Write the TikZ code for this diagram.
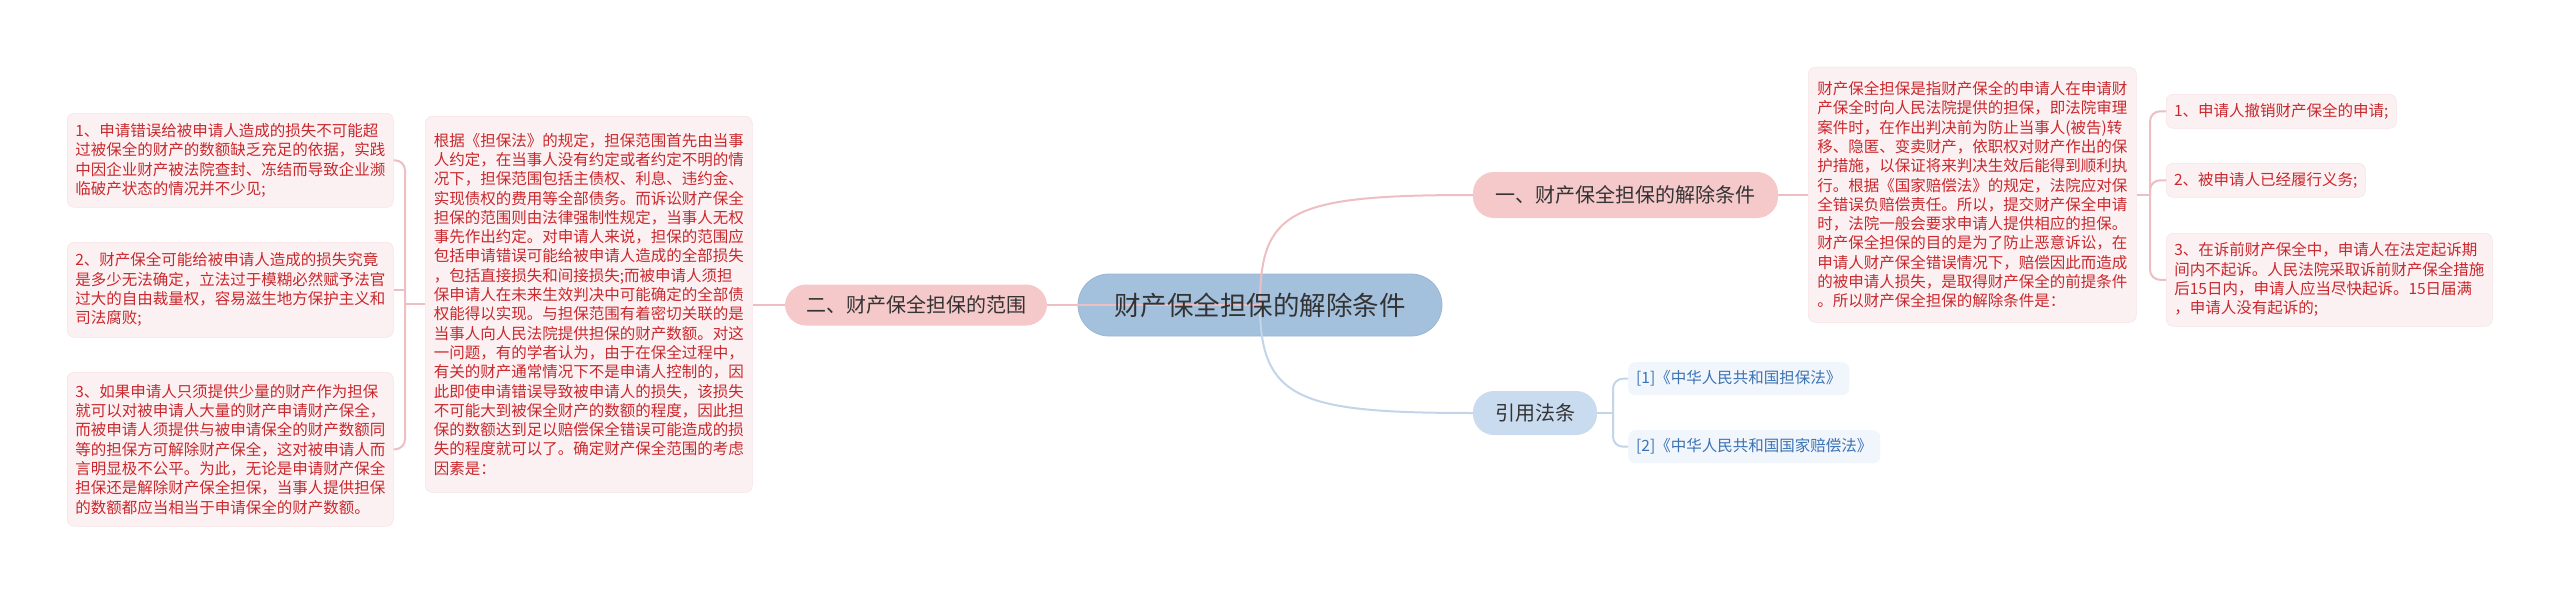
\documentclass[tikz,border=0pt]{standalone}
\usepackage{fontspec}
\setmainfont{Noto Sans CJK SC}
\definecolor{cfill}{HTML}{A3C0DC}
\definecolor{cdraw}{HTML}{9AB7D5}
\definecolor{pfill}{HTML}{F5C8CA}
\definecolor{bfill}{HTML}{C9DBEE}
\definecolor{boxfill}{HTML}{FCF1F2}
\definecolor{boxdraw}{HTML}{F8E4E6}
\definecolor{reffill}{HTML}{F1F6FC}
\definecolor{txtred}{HTML}{C9282D}
\definecolor{txtblue}{HTML}{3B72B3}
\definecolor{txtdark}{HTML}{333333}
\definecolor{pline}{HTML}{EDBFC2}
\definecolor{bline}{HTML}{C3D5E9}
\begin{document}
\begin{tikzpicture}[x=1pt,y=-1pt,
  pill/.style={rounded corners=#1, inner sep=0pt, text=txtdark},
  centerpill/.style={pill=31, fill=cfill, draw=cdraw, line width=0.8},
  pinkpill/.style={pill=21, fill=pfill, font=\fontsize{20}{24}\selectfont},
  bluepill/.style={pill=21, fill=bfill, font=\fontsize{20}{24}\selectfont},
  tbox/.style={fill=boxfill, draw=boxdraw, line width=0.6, rounded corners=7, text=txtred,
    font=\fontsize{15.5}{19.3}\selectfont, align=left, anchor=north west, inner sep=0pt},
  refbox/.style={fill=reffill, rounded corners=7, text=txtblue,
    font=\fontsize{15.5}{19.3}\selectfont, align=left, anchor=north west, inner sep=0pt},
  pinkconn/.style={draw=pline, line width=2},
  blueconn/.style={draw=bline, line width=2},
]
\fill[white] (0,0) rectangle (2560,594);
\useasboundingbox (0,0) rectangle (2560,594);

% central node (fill first, lines over it, then text)
\node[centerpill, minimum width=364, minimum height=62] (C) at (1260,305) {};

% main branches
\node[pinkpill, minimum width=262, minimum height=41] (B2) at (916,305) {二、财产保全担保的范围};
\node[pinkpill, minimum width=305, minimum height=46] (B1) at (1625.5,195) {一、财产保全担保的解除条件};
\node[bluepill, minimum width=124, minimum height=44] (B3) at (1535,413) {引用法条};

% left text boxes
\node[tbox, minimum width=327, minimum height=376] (LM) at (425,116) {根据《担保法》的规定，担保范围首先由当事\\人约定，在当事人没有约定或者约定不明的情\\况下，担保范围包括主债权、利息、违约金、\\实现债权的费用等全部债务。而诉讼财产保全\\担保的范围则由法律强制性规定，当事人无权\\事先作出约定。对申请人来说，担保的范围应\\包括申请错误可能给被申请人造成的全部损失\\，包括直接损失和间接损失;而被申请人须担\\保申请人在未来生效判决中可能确定的全部债\\权能得以实现。与担保范围有着密切关联的是\\当事人向人民法院提供担保的财产数额。对这\\一问题，有的学者认为，由于在保全过程中，\\有关的财产通常情况下不是申请人控制的，因\\此即使申请错误导致被申请人的损失，该损失\\不可能大到被保全财产的数额的程度，因此担\\保的数额达到足以赔偿保全错误可能造成的损\\失的程度就可以了。确定财产保全范围的考虑\\因素是：};

\node[tbox, minimum width=326, minimum height=94] (L1) at (67,113) {1、申请错误给被申请人造成的损失不可能超\\过被保全的财产的数额缺乏充足的依据，实践\\中因企业财产被法院查封、冻结而导致企业濒\\临破产状态的情况并不少见;};
\node[tbox, minimum width=326, minimum height=95] (L2) at (67,242) {2、财产保全可能给被申请人造成的损失究竟\\是多少无法确定，立法过于模糊必然赋予法官\\过大的自由裁量权，容易滋生地方保护主义和\\司法腐败;};
\node[tbox, minimum width=326, minimum height=154] (L3) at (67,372) {3、如果申请人只须提供少量的财产作为担保\\就可以对被申请人大量的财产申请财产保全，\\而被申请人须提供与被申请保全的财产数额同\\等的担保方可解除财产保全，这对被申请人而\\言明显极不公平。为此，无论是申请财产保全\\担保还是解除财产保全担保，当事人提供担保\\的数额都应当相当于申请保全的财产数额。};

% right text boxes
\node[tbox, minimum width=328, minimum height=255] (RM) at (1808,67) {财产保全担保是指财产保全的申请人在申请财\\产保全时向人民法院提供的担保，即法院审理\\案件时，在作出判决前为防止当事人(被告)转\\移、隐匿、变卖财产，依职权对财产作出的保\\护措施，以保证将来判决生效后能得到顺利执\\行。根据《国家赔偿法》的规定，法院应对保\\全错误负赔偿责任。所以，提交财产保全申请\\时，法院一般会要求申请人提供相应的担保。\\财产保全担保的目的是为了防止恶意诉讼，在\\申请人财产保全错误情况下，赔偿因此而造成\\的被申请人损失，是取得财产保全的前提条件\\。所以财产保全担保的解除条件是：};

\node[tbox, minimum width=230, minimum height=34] (R1) at (2166,94) {1、申请人撤销财产保全的申请;};
\node[tbox, minimum width=199, minimum height=34] (R2) at (2166,163) {2、被申请人已经履行义务;};
\node[tbox, minimum width=326, minimum height=93] (R3) at (2166,233) {3、在诉前财产保全中，申请人在法定起诉期\\间内不起诉。人民法院采取诉前财产保全措施\\后15日内，申请人应当尽快起诉。15日届满\\，申请人没有起诉的;};

% reference boxes
\node[refbox, minimum width=221, minimum height=33] (F1) at (1628,362) {[1]《中华人民共和国担保法》};
\node[refbox, minimum width=252, minimum height=33] (F2) at (1628,430) {[2]《中华人民共和国国家赔偿法》};

% connectors from center
\draw[pinkconn] (C.center) -- (B2.east);
\draw[pinkconn] (C.center) .. controls (1260,210) and (1290,195) .. (B1.west);
\draw[blueconn] (C.center) .. controls (1260,400) and (1300,413) .. (B3.west);

% central text on top
\node[text=txtdark, font=\fontsize{26.5}{30}\selectfont, inner sep=0pt] (Ct) at (C.center) {财产保全担保的解除条件};

% left side
\draw[pinkconn] (B2.west) -- (B2.west -| LM.east);
\coordinate (jl) at (405,304);
\draw[pinkconn] (LM.west |- jl) -- (jl);
\draw[pinkconn, rounded corners=10] (jl) |- (L1.east);
\draw[pinkconn] (jl) -- (L2.east -| jl) -- (L2.east);
\draw[pinkconn, rounded corners=10] (jl) |- (L3.east);

% right side
\draw[pinkconn] (B1.east) -- (B1.east -| RM.west);
\coordinate (jr) at (2150,195);
\draw[pinkconn] (RM.east |- jr) -- (jr);
\draw[pinkconn, rounded corners=10] (jr) |- (R1.west);
\draw[pinkconn, rounded corners=10] (jr) |- (R2.west);
\draw[pinkconn, rounded corners=10] (jr) |- (R3.west);

% references
\coordinate (jf) at (1613,413);
\draw[blueconn] (B3.east) -- (jf);
\draw[blueconn, rounded corners=10] (jf) |- (F1.west);
\draw[blueconn, rounded corners=10] (jf) |- (F2.west);
\end{tikzpicture}
\end{document}
